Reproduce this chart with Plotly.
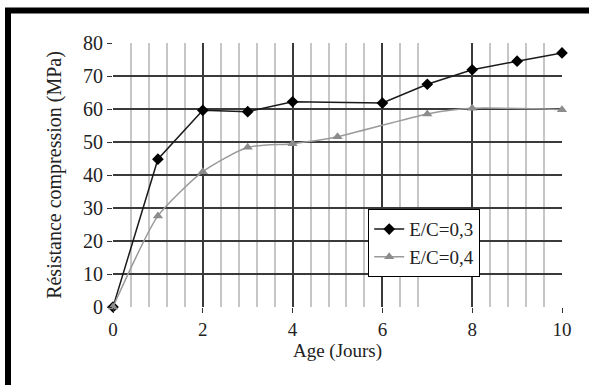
import plotly.graph_objects as go

age_03 = [0, 1, 2, 3, 4, 6, 7, 8, 9, 10]
res_03 = [0, 44.8, 59.6, 59.2, 62.2, 61.8, 67.5, 71.9, 74.5, 77.0]
age_04 = [0, 1, 2, 3, 4, 5, 7, 8, 10]
res_04 = [0, 27.6, 41.0, 48.4, 49.5, 51.6, 58.5, 60.2, 59.8]
name_03 = "E/C=0,3"
name_04 = "E/C=0,4"
x_ticks = [0, 2, 4, 6, 8, 10]
y_ticks = [0, 10, 20, 30, 40, 50, 60, 70, 80]
x_minor = [0.4, 0.8, 1.2, 1.6, 2.4, 2.8, 3.2, 3.6, 4.4, 4.8, 5.2, 5.6,
           6.4, 6.8, 8.4, 8.8, 9.2, 9.6]

FONT = "Liberation Serif, Times New Roman, Times, serif"

fig = go.Figure()
fig.add_trace(go.Scatter(
    x=age_03, y=res_03, name=name_03, mode="lines+markers", cliponaxis=False,
    line=dict(color="#1a1a1a", width=1.5),
    marker=dict(symbol="diamond", size=9, color="#000000"),
))
fig.add_trace(go.Scatter(
    x=age_04, y=res_04, name=name_04, mode="lines+markers", cliponaxis=False,
    line=dict(color="#9a9a9a", width=1.5, shape="spline", smoothing=0.6),
    marker=dict(symbol="triangle-up", size=9, color="#8c8c8c"),
))

L, R, T, B = 113, 27, 43, 78
W, H = 589, 385
pw, ph = W - L - R, H - T - B

def px2x(px):
    return (px - L) / pw

def py2y(py):
    return (H - B - py) / ph

fig.add_shape(type="path", xref="paper", yref="paper",
              path=f"M {px2x(8)} {py2y(400)} L {px2x(8)} {py2y(10.5)} L {px2x(600)} {py2y(10.5)}",
              line=dict(color="black", width=6), layer="above")

fig.update_layout(
    width=W, height=H,
    margin=dict(l=L, r=R, t=T, b=B),
    paper_bgcolor="white", plot_bgcolor="white",
    font=dict(family=FONT, size=19, color="#222"),
    showlegend=True,
    legend=dict(x=px2x(368), y=py2y(209), xanchor="left", yanchor="top",
                bordercolor="black", borderwidth=1.2, bgcolor="white",
                font=dict(family=FONT, size=19, color="#222"),
                tracegroupgap=0, itemwidth=30),
    xaxis=dict(
        range=[0, 10], tickvals=x_ticks, ticks="outside", ticklen=5,
        tickcolor="#333", showgrid=True, gridcolor="#3a3a3a", gridwidth=2,
        zeroline=False, showline=False,
        minor=dict(tickvals=x_minor, showgrid=True, gridcolor="#c6c6c6", gridwidth=2, ticks=""),
        title=dict(text="Age (Jours)", font=dict(family=FONT, size=19), standoff=3),
        tickfont=dict(family=FONT, size=19),
    ),
    yaxis=dict(
        range=[0, 80], tickvals=y_ticks, ticks="outside", ticklen=5,
        tickcolor="#333", showgrid=True, gridcolor="#3a3a3a", gridwidth=2,
        zeroline=False, showline=False,
        title=dict(text="Résistance compression (MPa)", font=dict(family=FONT, size=20), standoff=16),
        tickfont=dict(family=FONT, size=20),
    ),
)

fig.write_html("out.html")
